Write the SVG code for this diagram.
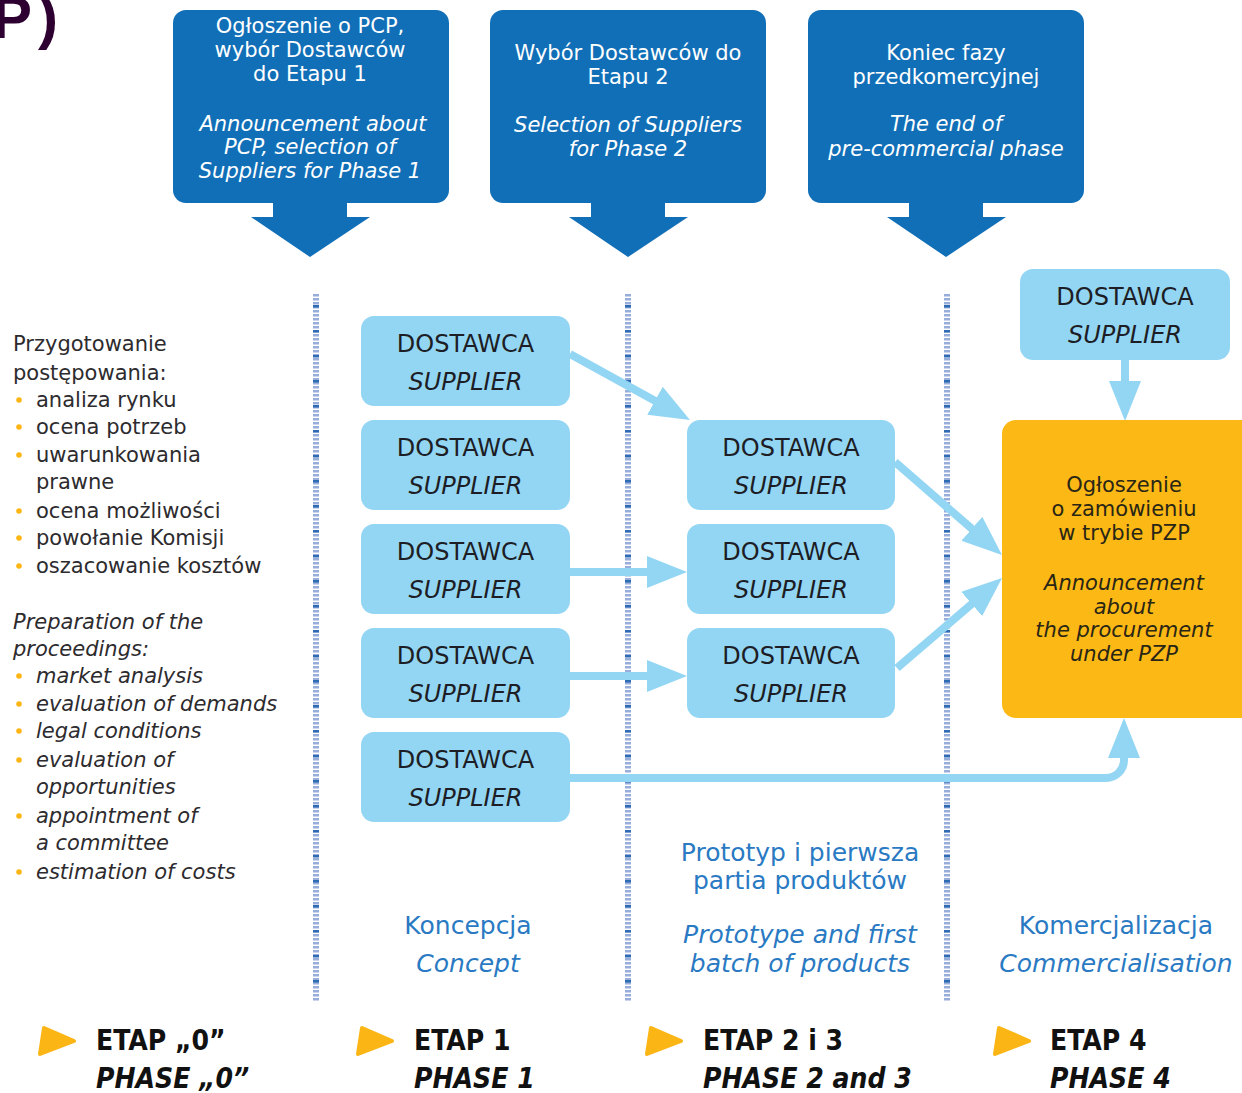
<svg xmlns="http://www.w3.org/2000/svg" width="1242" height="1093" viewBox="0 0 1242 1093">
<defs>
<style>
.hdr{fill:#116fb7}
.ht{font-family:"DejaVu Sans","Liberation Sans",sans-serif;font-size:21px;fill:#ffffff;text-anchor:middle}
.it{font-style:italic}
.sup{fill:#93d6f4}
.st{font-family:"DejaVu Sans","Liberation Sans",sans-serif;font-size:24px;fill:#1d1d25;text-anchor:middle}
.lt{font-family:"DejaVu Sans","Liberation Sans",sans-serif;font-size:21px;fill:#2d2b2e}
.bul{fill:#fbb616}
.ot{font-family:"DejaVu Sans","Liberation Sans",sans-serif;font-size:21px;fill:#2a2616;text-anchor:middle}
.pl{font-family:"DejaVu Sans","Liberation Sans",sans-serif;font-size:25px;fill:#2a7ac3;text-anchor:middle}
.ph{font-family:"DejaVu Sans Condensed","DejaVu Sans","Liberation Sans Narrow",sans-serif;font-stretch:condensed;font-weight:bold;font-size:28px;fill:#111111}
.dl{stroke:#97aedb;stroke-width:6;stroke-dasharray:2.5 1.5;fill:none}
.dk{stroke:#2e6bb3;stroke-width:6;stroke-dasharray:2.5 22.5;fill:none}
.con{stroke:#93d6f4;stroke-width:8;fill:none}
.tri{fill:#fbb616;stroke:#fbb616;stroke-width:4;stroke-linejoin:round}
</style>
<marker id="ah" markerUnits="userSpaceOnUse" markerWidth="40" markerHeight="32" viewBox="0 0 40 32" refX="2" refY="16" orient="auto">
<path d="M0,0 L40,16 L0,32 Z" fill="#93d6f4"/>
</marker>
</defs>
<rect width="1242" height="1093" fill="#ffffff"/>

<text x="-8" y="38" font-family="Liberation Sans, sans-serif" font-weight="bold" font-size="60" fill="#2e0031">P<tspan dx="6">)</tspan></text>

<g id="header1">
<rect class="hdr" x="173" y="10" width="276" height="193" rx="13"/>
<path class="hdr" d="M273,200 H347 V217 H370 L310,257 L251,217 H273 Z"/>
<text class="ht" x="310" y="33">Ogłoszenie o PCP,</text>
<text class="ht" x="310" y="57">wybór Dostawców</text>
<text class="ht" x="310" y="81">do Etapu 1</text>
<text class="ht it" x="313" y="131">Announcement about</text>
<text class="ht it" x="310" y="154">PCP, selection of</text>
<text class="ht it" x="310" y="178">Suppliers for Phase 1</text>
</g>
<g id="header2">
<rect class="hdr" x="490" y="10" width="276" height="193" rx="13"/>
<path class="hdr" d="M591,200 H665 V217 H688 L628,257 L569,217 H591 Z"/>
<text class="ht" x="628" y="60">Wybór Dostawców do</text>
<text class="ht" x="628" y="84">Etapu 2</text>
<text class="ht it" x="628" y="132">Selection of Suppliers</text>
<text class="ht it" x="628" y="156">for Phase 2</text>
</g>
<g id="header3">
<rect class="hdr" x="808" y="10" width="276" height="193" rx="13"/>
<path class="hdr" d="M909,200 H983 V217 H1006 L946,257 L887,217 H909 Z"/>
<text class="ht" x="946" y="60">Koniec fazy</text>
<text class="ht" x="946" y="84">przedkomercyjnej</text>
<text class="ht it" x="946" y="131">The end of</text>
<text class="ht it" x="946" y="156">pre-commercial phase</text>
</g>

<g id="dividers">
<line class="dl" x1="316" y1="294" x2="316" y2="1001"/>
<line class="dk" x1="316" y1="305" x2="316" y2="1001"/>
<line class="dl" x1="628" y1="294" x2="628" y2="1001"/>
<line class="dk" x1="628" y1="305" x2="628" y2="1001"/>
<line class="dl" x1="947" y1="294" x2="947" y2="1001"/>
<line class="dk" x1="947" y1="305" x2="947" y2="1001"/>
</g>

<g id="prep-text">
<text class="lt" x="13" y="351">Przygotowanie</text>
<text class="lt" x="13" y="380">postępowania:</text>
<text class="lt" x="36" y="407">analiza rynku</text>
<text class="lt" x="36" y="434">ocena potrzeb</text>
<text class="lt" x="36" y="462">uwarunkowania</text>
<text class="lt" x="36" y="489">prawne</text>
<text class="lt" x="36" y="518">ocena możliwości</text>
<text class="lt" x="36" y="545">powołanie Komisji</text>
<text class="lt" x="36" y="573">oszacowanie kosztów</text>
<text class="lt it" x="13" y="629">Preparation of the</text>
<text class="lt it" x="13" y="656">proceedings:</text>
<text class="lt it" x="36" y="683">market analysis</text>
<text class="lt it" x="36" y="711">evaluation of demands</text>
<text class="lt it" x="36" y="738">legal conditions</text>
<text class="lt it" x="36" y="767">evaluation of</text>
<text class="lt it" x="36" y="794">opportunities</text>
<text class="lt it" x="36" y="823">appointment of</text>
<text class="lt it" x="36" y="850">a committee</text>
<text class="lt it" x="36" y="879">estimation of costs</text>
<circle class="bul" cx="19" cy="400" r="2.8"/>
<circle class="bul" cx="19" cy="427" r="2.8"/>
<circle class="bul" cx="19" cy="455" r="2.8"/>
<circle class="bul" cx="19" cy="511" r="2.8"/>
<circle class="bul" cx="19" cy="538" r="2.8"/>
<circle class="bul" cx="19" cy="566" r="2.8"/>
<circle class="bul" cx="19" cy="676" r="2.8"/>
<circle class="bul" cx="19" cy="704" r="2.8"/>
<circle class="bul" cx="19" cy="731" r="2.8"/>
<circle class="bul" cx="19" cy="760" r="2.8"/>
<circle class="bul" cx="19" cy="816" r="2.8"/>
<circle class="bul" cx="19" cy="872" r="2.8"/>
</g>

<g id="connectors">
<line class="con" x1="570" y1="354" x2="656.7" y2="401.7" marker-end="url(#ah)"/>
<line class="con" x1="570" y1="572" x2="649" y2="572" marker-end="url(#ah)"/>
<line class="con" x1="570" y1="676" x2="649" y2="676" marker-end="url(#ah)"/>
<line class="con" x1="895" y1="462" x2="973.3" y2="530.1" marker-end="url(#ah)"/>
<line class="con" x1="897" y1="668" x2="973.2" y2="602.7" marker-end="url(#ah)"/>
<path class="con" d="M570,778 H1106 A18,18 0 0 0 1124,760 V756" marker-end="url(#ah)"/>
<path class="con" d="M1125,358 V383" stroke-width="15" marker-end="url(#ah)"/>
</g>

<g id="s1-1"><rect class="sup" x="361" y="316" width="209" height="90" rx="13"/><text class="st" x="465.5" y="352">DOSTAWCA</text><text class="st it" x="465.5" y="390">SUPPLIER</text></g>
<g id="s1-2"><rect class="sup" x="361" y="420" width="209" height="90" rx="13"/><text class="st" x="465.5" y="456">DOSTAWCA</text><text class="st it" x="465.5" y="494">SUPPLIER</text></g>
<g id="s1-3"><rect class="sup" x="361" y="524" width="209" height="90" rx="13"/><text class="st" x="465.5" y="560">DOSTAWCA</text><text class="st it" x="465.5" y="598">SUPPLIER</text></g>
<g id="s1-4"><rect class="sup" x="361" y="628" width="209" height="90" rx="13"/><text class="st" x="465.5" y="664">DOSTAWCA</text><text class="st it" x="465.5" y="702">SUPPLIER</text></g>
<g id="s1-5"><rect class="sup" x="361" y="732" width="209" height="90" rx="13"/><text class="st" x="465.5" y="768">DOSTAWCA</text><text class="st it" x="465.5" y="806">SUPPLIER</text></g>
<g id="s2-1"><rect class="sup" x="687" y="420" width="208" height="90" rx="13"/><text class="st" x="791" y="456">DOSTAWCA</text><text class="st it" x="791" y="494">SUPPLIER</text></g>
<g id="s2-2"><rect class="sup" x="687" y="524" width="208" height="90" rx="13"/><text class="st" x="791" y="560">DOSTAWCA</text><text class="st it" x="791" y="598">SUPPLIER</text></g>
<g id="s2-3"><rect class="sup" x="687" y="628" width="208" height="90" rx="13"/><text class="st" x="791" y="664">DOSTAWCA</text><text class="st it" x="791" y="702">SUPPLIER</text></g>
<g id="s4"><rect class="sup" x="1020" y="269" width="210" height="91" rx="13"/><text class="st" x="1125" y="305">DOSTAWCA</text><text class="st it" x="1125" y="343">SUPPLIER</text></g>

<g id="announcement">
<rect x="1002" y="420" width="260" height="298" rx="14" fill="#fcb915"/>
<text class="ot" x="1124" y="492">Ogłoszenie</text>
<text class="ot" x="1124" y="516">o zamówieniu</text>
<text class="ot" x="1124" y="540">w trybie PZP</text>
<text class="ot it" x="1124" y="590">Announcement</text>
<text class="ot it" x="1124" y="614">about</text>
<text class="ot it" x="1124" y="637">the procurement</text>
<text class="ot it" x="1124" y="661">under PZP</text>
</g>

<g id="phase-labels">
<text class="pl" x="468" y="934">Koncepcja</text>
<text class="pl it" x="468" y="972">Concept</text>
<text class="pl" x="800" y="861">Prototyp i pierwsza</text>
<text class="pl" x="800" y="889">partia produktów</text>
<text class="pl it" x="800" y="943">Prototype and first</text>
<text class="pl it" x="800" y="972">batch of products</text>
<text class="pl" x="1116" y="934">Komercjalizacja</text>
<text class="pl it" x="1116" y="972">Commercialisation</text>
</g>

<g id="phase0"><path class="tri" d="M44,1028 L74,1041 L40,1054 Z"/><text class="ph" x="96" y="1050">ETAP „0”</text><text class="ph it" x="96" y="1088">PHASE „0”</text></g>
<g id="phase1"><path class="tri" d="M362,1028 L392,1041 L358,1054 Z"/><text class="ph" x="414" y="1050">ETAP 1</text><text class="ph it" x="414" y="1088">PHASE 1</text></g>
<g id="phase23"><path class="tri" d="M651,1028 L681,1041 L647,1054 Z"/><text class="ph" x="703" y="1050">ETAP 2 i 3</text><text class="ph it" x="703" y="1088">PHASE 2 and 3</text></g>
<g id="phase4"><path class="tri" d="M999,1028 L1029,1041 L995,1054 Z"/><text class="ph" x="1050" y="1050">ETAP 4</text><text class="ph it" x="1050" y="1088">PHASE 4</text></g>
</svg>
